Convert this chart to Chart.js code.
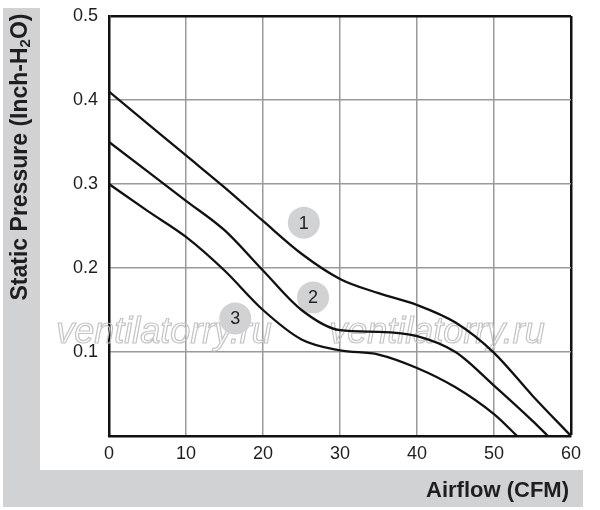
<!DOCTYPE html>
<html>
<head>
<meta charset="utf-8">
<script src="https://cdn.jsdelivr.net/npm/chart.js@4"></script>
<style>
  body { margin: 0; background: #ffffff; }
  canvas { display: block; }
</style>
</head>
<body>
<canvas id="fanChart" width="600" height="510"></canvas>
<script>
// airflow points (CFM) and static pressure (Inch-H2O) for each curve
const airflow1 = [0, 5, 10, 15, 20, 25, 30, 35, 40, 45, 50, 55, 60];
const pressure1 = [0.41, 0.372, 0.334, 0.296, 0.256, 0.217, 0.187, 0.170, 0.156, 0.135, 0.099, 0.048, 0];

const airflow2 = [0, 5, 10, 15, 20, 25, 30, 35, 40, 45, 50, 55, 57];
const pressure2 = [0.35, 0.315, 0.28, 0.245, 0.197, 0.150, 0.126, 0.124, 0.119, 0.100, 0.060, 0.018, 0];

const airflow3 = [0, 5, 10, 15, 20, 25, 30, 35, 40, 45, 50, 53];
const pressure3 = [0.30, 0.268, 0.237, 0.197, 0.150, 0.115, 0.102, 0.097, 0.081, 0.058, 0.026, 0];

// numbered markers next to the curves
const badgeLabels = ['1', '2', '3'];
const badgeX = [25.3, 26.5, 16.4];
const badgeY = [0.254, 0.165, 0.140];

const xTicks = [0, 10, 20, 30, 40, 50, 60];
const yTicks = [0.1, 0.2, 0.3, 0.4, 0.5];

const watermark = 'ventilatorry.ru';

function toPoints(xs, ys) {
    return xs.map(function (x, i) { return { x: x, y: ys[i] }; });
}

function curve(xs, ys) {
    return {
        type: 'line',
        data: toPoints(xs, ys),
        borderColor: '#111111',
        borderWidth: 2.3,
        pointRadius: 0,
        fill: false,
        cubicInterpolationMode: 'monotone'
    };
}

// grey frame + axis titles
const framePlugin = {
    id: 'frame',
    beforeDraw: function (chart) {
        const c = chart.ctx;
        c.save();
        c.fillStyle = '#ffffff';
        c.fillRect(0, 0, chart.width, chart.height);
        c.fillStyle = '#d1d2d4';
        c.fillRect(3, 8, 37, 499);
        c.fillRect(3, 470, 580, 37);
        c.restore();
    },
    afterDraw: function (chart) {
        const c = chart.ctx;
        c.save();
        c.fillStyle = '#1e1e1e';
        c.textBaseline = 'middle';

        // y title with subscript 2
        c.translate(21, 157);
        c.rotate(-Math.PI / 2);
        const big = 'bold 23px "Liberation Sans", Arial, sans-serif';
        const small = 'bold 15px "Liberation Sans", Arial, sans-serif';
        c.font = big;
        const w1 = c.measureText('Static Pressure (Inch-H').width;
        const w3 = c.measureText('O)').width;
        c.font = small;
        const w2 = c.measureText('2').width;
        let x0 = -(w1 + w2 + w3) / 2;
        c.font = big;
        c.textAlign = 'left';
        c.fillText('Static Pressure (Inch-H', x0, 0);
        c.font = small;
        c.fillText('2', x0 + w1, 5);
        c.font = big;
        c.fillText('O)', x0 + w1 + w2, 0);
        c.restore();

        c.save();
        c.fillStyle = '#1e1e1e';
        c.font = 'bold 22px "Liberation Sans", Arial, sans-serif';
        c.textAlign = 'right';
        c.textBaseline = 'middle';
        c.fillText('Airflow (CFM)', 569, 491);
        c.restore();
    }
};

// outlined watermark text, under the curves
const watermarkPlugin = {
    id: 'watermark',
    beforeDatasetsDraw: function (chart) {
        const c = chart.ctx;
        c.save();
        c.font = 'italic 36px "Liberation Sans", Arial, sans-serif';
        c.textAlign = 'center';
        c.textBaseline = 'alphabetic';
        c.strokeStyle = '#c4c4c4';
        c.lineWidth = 1.2;
        c.strokeText(watermark, 164, 343);
        c.strokeText(watermark, 437, 343);
        c.restore();
    }
};

// numbers inside the grey badges
const badgeTextPlugin = {
    id: 'badgeText',
    afterDatasetsDraw: function (chart) {
        const meta = chart.getDatasetMeta(3);
        const c = chart.ctx;
        c.save();
        c.fillStyle = '#222222';
        c.font = '18px "Liberation Sans", Arial, sans-serif';
        c.textAlign = 'center';
        c.textBaseline = 'middle';
        meta.data.forEach(function (pt, i) {
            c.fillText(badgeLabels[i], pt.x, pt.y + 1);
        });
        c.restore();
    }
};

const ctx = document.getElementById('fanChart');

new Chart(ctx, {
    type: 'scatter',
    data: {
        datasets: [
            curve(airflow1, pressure1),
            curve(airflow2, pressure2),
            curve(airflow3, pressure3),
            {
                type: 'scatter',
                data: toPoints(badgeX, badgeY),
                pointRadius: 16,
                pointHoverRadius: 16,
                backgroundColor: '#d1d2d4',
                borderWidth: 0
            }
        ]
    },
    options: {
        responsive: false,
        animation: false,
        layout: { padding: { left: 0, right: 29, top: 0, bottom: 0 } },
        plugins: {
            legend: { display: false },
            tooltip: { enabled: false }
        },
        scales: {
            x: {
                type: 'linear',
                min: 0,
                max: 60,
                afterFit: function (scale) { scale.height = 74; },
                afterBuildTicks: function (scale) {
                    scale.ticks = xTicks.map(function (v) { return { value: v }; });
                },
                ticks: {
                    color: '#1e1e1e',
                    font: { size: 18, family: '"Liberation Sans", Arial, sans-serif' },
                    padding: 7
                },
                grid: {
                    drawTicks: false,
                    color: function (context) {
                        return context.tick && context.tick.value === 60 ? '#111111' : '#9a9a9a';
                    },
                    lineWidth: function (context) {
                        return context.tick && context.tick.value === 60 ? 2.5 : 1.5;
                    }
                },
                border: { color: '#111111', width: 2.5 }
            },
            y: {
                min: 0,
                max: 0.5,
                afterFit: function (scale) {
                    scale.width = 109;
                    scale.paddingTop = 9;
                    scale.paddingBottom = 0;
                },
                afterBuildTicks: function (scale) {
                    scale.ticks = yTicks.map(function (v) { return { value: v }; });
                },
                ticks: {
                    color: '#1e1e1e',
                    font: { size: 18, lineHeight: 1, family: '"Liberation Sans", Arial, sans-serif' },
                    padding: 11,
                    callback: function (v) { return v.toFixed(1); }
                },
                grid: {
                    drawTicks: false,
                    color: function (context) {
                        return context.tick && context.tick.value === 0.5 ? '#111111' : '#9a9a9a';
                    },
                    lineWidth: function (context) {
                        return context.tick && context.tick.value === 0.5 ? 2.5 : 1.5;
                    }
                },
                border: { color: '#111111', width: 2.5 }
            }
        }
    },
    plugins: [framePlugin, watermarkPlugin, badgeTextPlugin]
});
</script>
</body>
</html>
